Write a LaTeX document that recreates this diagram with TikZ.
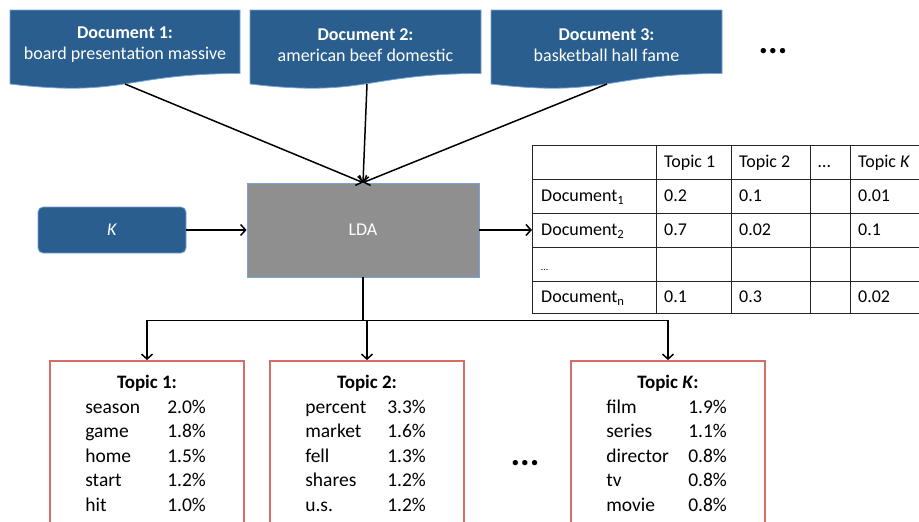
\documentclass[tikz,border=0pt]{standalone}
\usepackage{fontspec}
\setmainfont{Carlito}
\usetikzlibrary{calc, arrows.meta, positioning}

\definecolor{docblue}{RGB}{41,94,143}
\definecolor{docedge}{RGB}{120,165,215}
\definecolor{ldagray}{RGB}{143,143,143}
\definecolor{topicred}{RGB}{214,110,104}

\tikzset{
  flow/.style={line width=1.5pt, -{Straight Barb[length=5pt, width=11pt]}},
  plain/.style={line width=1.5pt},
  docshape/.style={fill=docblue, draw=docedge, line width=0.8pt},
  doctext/.style={text=white, align=center, font=\fontsize{18}{21}\selectfont},
  ldabox/.style={fill=ldagray, draw=docedge, line width=0.8pt, minimum width=232pt,
    minimum height=94pt, text=white, font=\fontsize{18}{21}\selectfont},
  kbox/.style={fill=docblue, draw=docedge, line width=0.8pt, rounded corners=5pt,
    minimum width=148pt, minimum height=46pt, text=white, font=\fontsize{18}{21}\selectfont},
  tabline/.style={draw=black!85, line width=0.8pt},
  cell/.style={anchor=west, inner sep=0pt, text height=13pt, text depth=4pt,
    font=\fontsize{18}{21}\selectfont},
  topicbox/.style={draw=topicred, line width=1.8pt, minimum width=194pt, minimum height=176pt},
  topictitle/.style={inner sep=0pt, font=\bfseries\fontsize{19}{22}\selectfont},
  wordtext/.style={anchor=west, inner sep=0pt, text height=14pt, text depth=4pt,
    font=\fontsize{19.5}{23}\selectfont},
  moredots/.style={inner sep=0pt, font=\bfseries\fontsize{36}{40}\selectfont}
}

% wavy document shape, #1 = left, #2 = right
\newcommand{\drawdoc}[2]{%
  \path[docshape] (#1,10) -- (#2,10) -- (#2,73.5)
    .. controls ({(#1+#2)/2},73.5) and ({(#1+#2)/2},97.7) .. (#1,84) -- cycle;}

% word and percentage rows of a topic box
\newcommand{\topicrows}[2]{%
  \foreach \w/\p [count=\i] in {#2} {
    \node[wordtext] (#1w\i) at ($(#1.north west)+(36,{23.5+24.5*\i})$) {\w};
    \node[wordtext] (#1p\i) at ($(#1.north west)+(118,{23.5+24.5*\i})$) {\p};
  }}

\begin{document}
\begin{tikzpicture}[x=1pt, y=-1pt]
\useasboundingbox (0,0) rectangle (919,522);
\clip (0,0) rectangle (919,522);

%documents
\drawdoc{10}{240}
\drawdoc{250}{481}
\drawdoc{491}{722}
\node[doctext] (docA) at (125,45) {\textbf{Document 1:}\\board presentation massive};
\node[doctext] (docB) at (365.5,45) {\textbf{Document 2:}\\american beef domestic};
\node[doctext] (docC) at (606.5,45) {\textbf{Document 3:}\\basketball hall fame};
\node[moredots] (moredocs) at (773,51) {...};
\coordinate (dA) at (125,84);
\coordinate (dB) at (367,84);
\coordinate (dC) at (607,84);

%model
\node[ldabox] (lda) at (363,230) {LDA};
\node[kbox] (kbox) at (112,230) {\textit{K}};
\draw[flow] (dA) -- (lda.north);
\draw[flow] (dB) -- (lda.north);
\draw[flow] (dC) -- (lda.north);
\draw[flow] (kbox.east) -- (lda.west);

%document-topic table
\coordinate (tab) at (532,230);
\draw[flow] (lda.east) -- (tab);
\foreach \x in {532,656,731,810,850}
  \draw[tabline] (\x,145) -- (\x,313);
\foreach \y in {145,179,213,247,281,313}
  \draw[tabline] (532,\y) -- (930,\y);
\foreach \px/\txt [count=\c] in {664/Topic 1, 739/Topic 2, 818/\dots, 858/Topic \textit{K}}
  \node[cell] (head\c) at (\px,163) {\txt};
\foreach \y/\n/\a/\b/\k [count=\r] in {197/1/0.2/0.1/0.01, 231/2/0.7/0.02/0.1, 298/n/0.1/0.3/0.02} {
  \node[cell] (row\r) at (541,\y) {Document\textsubscript{\n}};
  \node[cell] (row\r a) at (664,\y) {\a};
  \node[cell] (row\r b) at (739,\y) {\b};
  \node[cell] (row\r k) at (858,\y) {\k};
}
\node[cell, font=\fontsize{10}{12}\selectfont] (rowgap) at (541,266) {\dots};

%topics
\node[topicbox] (topic1) at (147,449) {};
\node[topicbox] (topic2) at (367,449) {};
\node[topicbox] (topicK) at (668,449) {};
\node[moredots] (moretopics) at (525,463) {...};
\draw[plain] (lda.south) -- ++(0,43) coordinate (bus);
\draw[plain] (bus -| topic1.north) -- (bus -| topicK.north);
\foreach \t in {topic1, topic2, topicK}
  \draw[flow] (bus -| \t.north) -- (\t.north);

\node[topictitle] (title1) at ($(topic1.north)+(0,23)$) {Topic 1:};
\node[topictitle] (title2) at ($(topic2.north)+(0,23)$) {Topic 2:};
\node[topictitle] (titleK) at ($(topicK.north)+(0,23)$) {Topic \textit{K}:};
\topicrows{topic1}{season/2.0\%, game/1.8\%, home/1.5\%, start/1.2\%, hit/1.0\%}
\topicrows{topic2}{percent/3.3\%, market/1.6\%, fell/1.3\%, shares/1.2\%, u.s./1.2\%}
\topicrows{topicK}{film/1.9\%, series/1.1\%, director/0.8\%, tv/0.8\%, movie/0.8\%}

\end{tikzpicture}
\end{document}
